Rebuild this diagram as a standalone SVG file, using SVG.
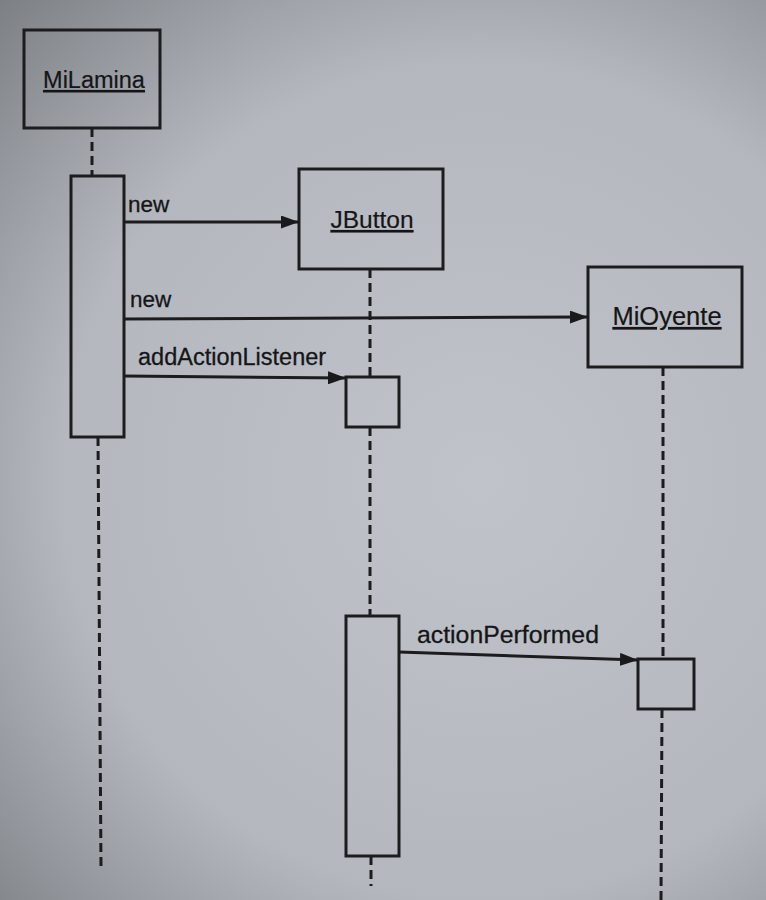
<svg xmlns="http://www.w3.org/2000/svg" width="766" height="900" viewBox="0 0 766 900">
<defs>
<radialGradient id="bg" cx="480" cy="480" r="700" gradientUnits="userSpaceOnUse">
<stop offset="0" stop-color="#c0c4ca"/>
<stop offset="0.6" stop-color="#b4b8be"/>
<stop offset="1" stop-color="#787b80"/>
</radialGradient>
<marker id="arr" viewBox="0 0 18 13" refX="18" refY="6.5" markerWidth="18" markerHeight="13" markerUnits="userSpaceOnUse" orient="auto">
<path d="M0,0 L18,6.5 L0,13 Z" fill="#1a1a1c"/>
</marker>
<style>
.box{fill:none;stroke:#1c1c1e;stroke-width:3}
.life{fill:none;stroke:#1c1c1e;stroke-width:3;stroke-dasharray:9 5}
.msg{fill:none;stroke:#1c1c1e;stroke-width:3}
.lbl{font-family:"Liberation Sans",Arial,sans-serif;fill:#151517;stroke:#151517;stroke-width:0.3}
.name{font-family:"Liberation Sans",Arial,sans-serif;fill:#151517;stroke:#151517;stroke-width:0.2;text-decoration:underline}
</style>
</defs>
<rect x="0" y="0" width="766" height="900" fill="url(#bg)"/>

<g id="MiLamina">
<rect class="box" x="24" y="30" width="136" height="98"/>
<text class="name" x="94" y="88" font-size="23.5" text-anchor="middle">MiLamina</text>
<line class="life" x1="92" y1="128" x2="92" y2="176"/>
<rect class="box" x="71" y="176" width="53" height="261"/>
<line class="life" x1="98" y1="437" x2="101" y2="868"/>
</g>

<g id="JButton">
<rect class="box" x="299" y="169" width="144" height="100"/>
<text class="name" x="372" y="228" font-size="24.5" text-anchor="middle">JButton</text>
<line class="life" x1="370" y1="269" x2="370" y2="377"/>
<rect class="box" x="346" y="377" width="53" height="50"/>
<line class="life" x1="370" y1="427" x2="370" y2="616"/>
<rect class="box" x="346" y="616" width="53" height="240"/>
<line class="life" x1="371" y1="856" x2="371" y2="886"/>
</g>

<g id="MiOyente">
<rect class="box" x="588" y="267" width="154" height="100"/>
<text class="name" x="667" y="325" font-size="25.5" text-anchor="middle">MiOyente</text>
<line class="life" x1="663" y1="367" x2="663" y2="659"/>
<rect class="box" x="638" y="659" width="56" height="50"/>
<line class="life" x1="662" y1="709" x2="661" y2="900"/>
</g>

<g id="connectors">
<line class="msg" x1="124" y1="222" x2="299" y2="222" marker-end="url(#arr)"/>
<text class="lbl" x="128" y="212" font-size="22.5">new</text>
<line class="msg" x1="124" y1="319" x2="588" y2="317" marker-end="url(#arr)"/>
<text class="lbl" x="130" y="307" font-size="22.5">new</text>
<line class="msg" x1="124" y1="376" x2="346" y2="378" marker-end="url(#arr)"/>
<text class="lbl" x="138" y="365" font-size="23.5">addActionListener</text>
<line class="msg" x1="399" y1="652" x2="638" y2="660" marker-end="url(#arr)"/>
<text class="lbl" x="417" y="643" font-size="24.8">actionPerformed</text>
</g>
</svg>
